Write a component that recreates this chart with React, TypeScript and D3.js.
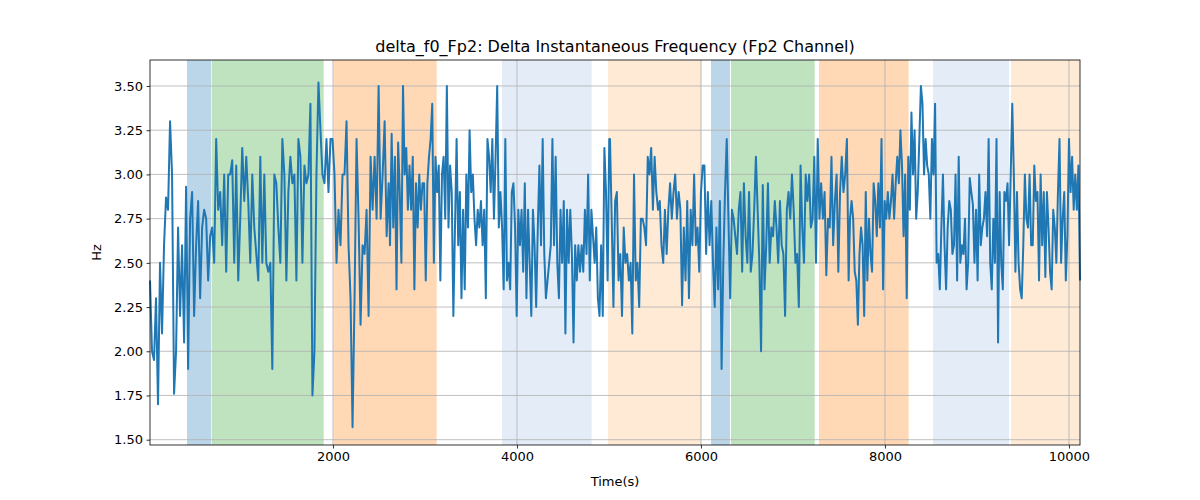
import { useEffect, useRef } from 'react';
import * as d3 from 'd3';

const seg1Range: [number, number] = [11, 2605];
const seg1 = [2.4, 2.0, 1.95, 2.3, 1.7, 2.5, 2.1, 2.6, 2.87, 2.8, 3.3, 3.0, 1.76, 2.0, 2.7, 2.2, 2.6, 2.05, 2.93, 1.9,
  2.75, 2.9, 2.2, 2.6, 2.85, 2.3, 2.7, 2.8, 2.75, 2.4, 2.65, 2.7, 2.5, 3.2, 2.8, 2.9, 2.6, 3.0, 2.45, 3.0,
  3.0, 3.08, 2.5, 3.05, 2.4, 2.75, 3.15, 2.85, 3.1, 2.85, 2.5, 3.0, 2.7, 2.55, 2.4, 3.1, 2.5, 3.0, 2.5, 2.45,
  2.5, 1.9, 3.0, 2.95, 2.7, 2.5, 3.2, 3.0, 2.4, 2.9, 3.1, 2.95, 3.0, 2.4, 3.2, 3.1, 2.5, 3.05, 2.95, 3.0,
  3.4, 1.75, 2.0, 3.0, 3.52, 3.25, 3.0, 2.95, 3.2, 2.9, 3.2, 3.2, 3.0, 2.5, 2.8, 2.6, 3.0, 3.0, 3.3, 2.6,
  2.3, 1.57, 2.3, 3.2, 2.75, 2.15, 2.6, 2.55, 2.8, 2.2, 3.1, 2.8, 3.1, 2.75, 3.5, 2.75, 3.0, 3.3, 2.65, 2.95];

const seg2Range: [number, number] = [2620, 5003];
const seg2 = [2.6, 3.23, 2.7, 3.1, 2.35, 3.18, 2.9, 2.5, 3.5, 3.0, 3.15, 2.8, 3.05, 2.8, 3.1, 2.35, 2.95, 2.7, 3.0, 2.8,
  2.95, 2.95, 2.4, 2.95, 3.1, 3.2, 3.4, 2.5, 3.1, 2.9, 3.05, 2.4, 3.0, 3.1, 2.75, 3.5, 2.7, 3.05, 2.9, 2.2,
  2.7, 3.2, 2.6, 2.9, 2.3, 2.8, 2.35, 3.0, 2.7, 3.25, 2.9, 3.0, 2.75, 2.6, 2.8, 2.7, 2.85, 2.6, 2.8, 2.3,
  3.2, 3.1, 2.9, 3.2, 2.75, 3.1, 3.5, 2.7, 2.9, 2.7, 2.35, 3.2, 2.4, 2.5, 2.35, 2.9, 2.95, 2.7, 2.2, 2.8,
  2.6, 2.8, 2.45, 2.95, 2.3, 2.8, 2.5, 2.2, 2.8, 2.6, 2.25, 2.7, 3.05, 2.6, 3.2, 2.55, 2.3, 2.4, 2.5, 2.6,
  3.2, 2.6, 3.1, 2.5, 2.3, 2.8, 2.5, 2.85, 2.1, 2.8, 2.5, 2.8, 2.55, 2.05, 2.6, 2.4, 2.6, 2.45, 2.6, 2.45,
  2.8, 2.55, 3.0, 2.4, 2.8, 2.65, 2.5, 2.7, 2.3, 2.2, 2.6, 2.2, 3.15, 2.9, 2.4, 3.2];

const seg3Range: [number, number] = [5011, 7605];
const seg3 = [3.2, 2.75, 2.25, 2.85, 2.9, 2.4, 2.55, 2.2, 2.7, 2.5, 2.55, 2.4, 2.5, 2.1, 3.0, 2.4, 2.5, 2.25, 2.75, 2.75,
  2.7, 2.6, 3.1, 3.0, 3.15, 2.8, 3.1, 2.9, 2.8, 2.85, 2.6, 2.5, 2.8, 2.55, 2.8, 2.95, 2.75, 2.9, 3.0, 2.75,
  2.9, 2.8, 2.26, 2.7, 2.4, 2.85, 2.3, 2.8, 2.6, 3.0, 2.6, 2.7, 2.45, 2.9, 3.05, 3.05, 2.55, 2.9, 2.6, 2.85,
  2.5, 2.25, 2.7, 2.35, 2.85, 1.9, 2.5, 2.9, 3.2, 2.75, 2.3, 2.8, 2.75, 2.65, 2.55, 2.8, 2.9, 2.45, 2.95, 2.65,
  2.5, 2.9, 2.45, 2.55, 2.8, 3.1, 2.8, 2.5, 2.0, 2.94, 2.35, 2.6, 2.95, 2.5, 2.7, 2.65, 2.85, 2.7, 2.5, 2.85,
  2.6, 2.55, 2.2, 2.8, 2.9, 2.75, 3.0, 2.8, 2.5, 2.55, 2.25, 3.05, 2.7, 2.5, 3.0, 2.85, 3.0, 2.7, 2.75, 3.1,
  2.5, 3.2, 2.75, 2.95, 2.75, 2.9, 2.43, 2.75, 2.7, 3.1, 2.6, 2.85, 3.0, 2.45, 2.9, 3.1, 2.9, 3.0, 3.2, 2.4];

const seg4Range: [number, number] = [7620, 10120];
const seg4 = [2.75, 2.85, 2.75, 2.45, 2.4, 2.15, 2.55, 2.7, 2.6, 2.2, 2.9, 2.4, 2.75, 2.55, 2.45, 2.95, 2.85, 2.65, 2.95, 2.7,
  3.2, 2.35, 2.85, 2.75, 2.9, 2.75, 2.85, 3.0, 2.75, 2.95, 3.1, 2.95, 3.25, 3.05, 2.65, 3.0, 2.3, 3.1, 2.8, 3.35,
  3.0, 3.25, 2.75, 2.9, 3.2, 3.5, 3.4, 3.0, 3.2, 3.05, 3.0, 2.75, 3.2, 3.0, 3.4, 2.5, 2.55, 2.35, 2.7, 3.0,
  2.6, 2.35, 2.7, 2.85, 2.8, 2.55, 2.6, 3.0, 2.4, 3.1, 2.5, 2.6, 2.55, 2.75, 2.35, 2.5, 2.98, 2.9, 2.83, 2.5,
  2.8, 2.4, 3.0, 2.6, 2.7, 2.75, 2.9, 2.65, 3.2, 2.5, 2.35, 2.75, 2.5, 3.2, 2.05, 2.9, 2.5, 2.35, 2.9, 2.85,
  2.95, 2.6, 3.0, 3.4, 3.0, 2.45, 2.9, 2.5, 2.35, 2.3, 2.6, 3.0, 2.75, 2.7, 3.0, 2.6, 2.6, 3.05, 2.85, 2.9,
  2.4, 3.0, 2.6, 2.9, 2.42, 2.9, 2.7, 2.45, 2.35, 2.8, 2.7, 2.5, 2.9, 3.2, 2.5, 2.75, 2.9, 2.4, 2.65, 3.2,
  2.9, 3.1, 2.8, 3.0, 2.8, 3.05, 2.4];

// shaded epochs: [start, end, colour, opacity]
const spans: [number, number, string, number][] = [
  [413, 674, '#1f77b4', 0.3],
  [681, 1899, '#2ca02c', 0.3],
  [2004, 3127, '#ff7f0e', 0.3],
  [3837, 4812, '#aec7e8', 0.33],
  [4989, 6007, '#ffbb78', 0.3],
  [6109, 6315, '#1f77b4', 0.3],
  [6326, 7236, '#2ca02c', 0.3],
  [7283, 8257, '#ff7f0e', 0.3],
  [8522, 9348, '#aec7e8', 0.33],
  [9370, 10120, '#ffbb78', 0.3],
];

const xTicks = [2000, 4000, 6000, 8000, 10000];
const yTicks = [1.5, 1.75, 2.0, 2.25, 2.5, 2.75, 3.0, 3.25, 3.5];

function spread(range: [number, number], vals: number[]) {
  const step = (range[1] - range[0]) / (vals.length - 1);
  return vals.map((v, i) => ({ t: range[0] + i * step, v }));
}

export default function App() {
  const svgRef = useRef<SVGSVGElement>(null);

  useEffect(() => {
    const W = 1200, H = 500;
    const margin = { top: 60, right: 120, bottom: 55, left: 150 };
    const innerW = W - margin.left - margin.right;
    const innerH = H - margin.top - margin.bottom;

    const svg = d3.select(svgRef.current);
    svg.selectAll('*').remove();
    svg.attr('width', W).attr('height', H).style('font-family', 'DejaVu Sans, sans-serif');

    const points = [
      ...spread(seg1Range, seg1),
      ...spread(seg2Range, seg2),
      ...spread(seg3Range, seg3),
      ...spread(seg4Range, seg4),
    ];

    const x = d3.scaleLinear().domain([11, 10120]).range([0, innerW]);
    const y = d3.scaleLinear().domain([1.47, 3.647]).range([innerH, 0]);

    const g = svg.append('g').attr('transform', `translate(${margin.left},${margin.top})`);

    g.append('g')
      .selectAll('rect')
      .data(spans)
      .join('rect')
      .attr('x', d => x(d[0]))
      .attr('width', d => x(d[1]) - x(d[0]))
      .attr('y', 0)
      .attr('height', innerH)
      .attr('fill', d => d[2])
      .attr('fill-opacity', d => d[3]);

    // grid
    g.append('g')
      .selectAll('line')
      .data(yTicks)
      .join('line')
      .attr('x1', 0).attr('x2', innerW)
      .attr('y1', d => y(d)).attr('y2', d => y(d))
      .attr('stroke', '#b0b0b0').attr('stroke-width', 0.8);
    g.append('g')
      .selectAll('line')
      .data(xTicks)
      .join('line')
      .attr('y1', 0).attr('y2', innerH)
      .attr('x1', d => x(d)).attr('x2', d => x(d))
      .attr('stroke', '#b0b0b0').attr('stroke-width', 0.8);

    const line = d3.line<{ t: number; v: number }>().x(d => x(d.t)).y(d => y(d.v));
    g.append('path')
      .datum(points)
      .attr('fill', 'none')
      .attr('stroke', '#1f77b4')
      .attr('stroke-width', 2)
      .attr('stroke-linejoin', 'round')
      .attr('d', line);

    g.append('rect')
      .attr('width', innerW).attr('height', innerH)
      .attr('fill', 'none').attr('stroke', '#000').attr('stroke-width', 0.8);

    const xAxis = g.append('g')
      .attr('transform', `translate(0,${innerH})`)
      .call(d3.axisBottom(x).tickValues(xTicks).tickFormat(d3.format('d')).tickSizeOuter(0).tickSize(3.5).tickPadding(3.5));
    const yAxis = g.append('g')
      .call(d3.axisLeft(y).tickValues(yTicks).tickFormat(d3.format('.2f')).tickSizeOuter(0).tickSize(3.5).tickPadding(3.5));
    [xAxis, yAxis].forEach(a => {
      a.select('.domain').remove();
      a.selectAll('text').attr('font-size', 13).attr('font-family', 'DejaVu Sans, sans-serif').attr('fill', '#000');
      a.selectAll('line').attr('stroke', '#000').attr('stroke-width', 0.8);
    });

    svg.append('text')
      .attr('x', margin.left + innerW / 2).attr('y', 52)
      .attr('text-anchor', 'middle').attr('font-size', 16)
      .text('delta_f0_Fp2: Delta Instantaneous Frequency (Fp2 Channel)');
    svg.append('text')
      .attr('x', margin.left + innerW / 2).attr('y', 486)
      .attr('text-anchor', 'middle').attr('font-size', 13)
      .text('Time(s)');
    svg.append('text')
      .attr('transform', `translate(101,${margin.top + innerH / 2}) rotate(-90)`)
      .attr('text-anchor', 'middle').attr('font-size', 13)
      .text('Hz');
  }, []);

  return <svg ref={svgRef} style={{ display: 'block', margin: -8 }} />;
}
